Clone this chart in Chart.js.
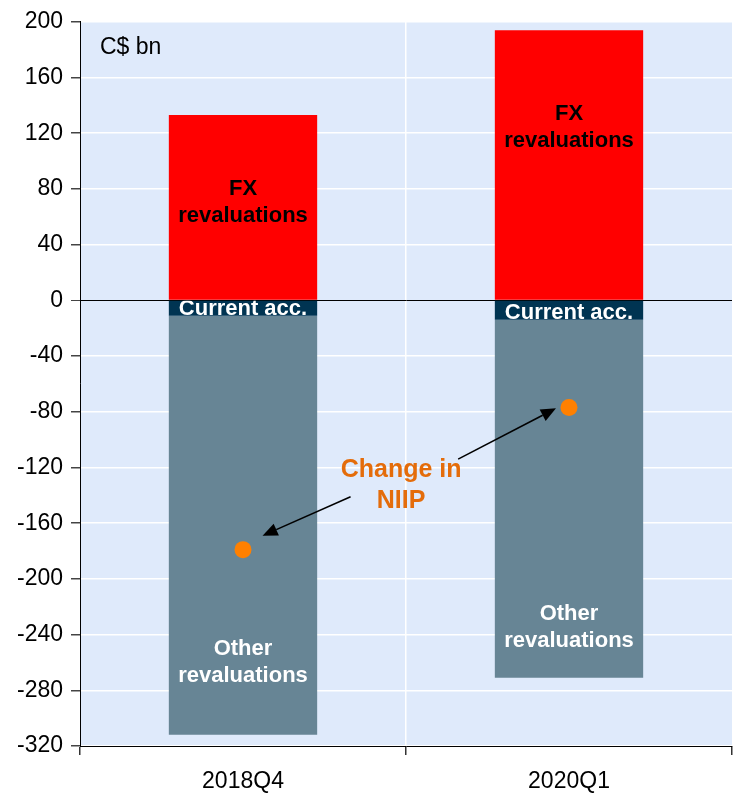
<!doctype html>
<html lang="en">
<head>
<meta charset="UTF-8" />
<title>NIIP change</title>
<script src="https://cdn.jsdelivr.net/npm/chart.js"></script>
<style>
  html, body { margin: 0; padding: 0; background: #fff; overflow: hidden; }
  canvas { display: block; }
</style>
</head>
<body>
<canvas id="myChart" width="736" height="794"></canvas>
<script>
// data, C$ bn
const quarters = ['2018Q4', '2020Q1'];
const fxReval = [133, 194];
const currentAcc = [-11, -14];
const otherReval = [-301, -257];
const niipChange = [-179, -77];
const yMin = -320, yMax = 200, yStep = 40;

// where the in-bar labels sit (y units)
const fxLabelY = [70, 124];
const otherLabelY = [-260, -235];

// annotation: text + two arrows, in (category index, y) units
const niipText = { x: 0.485, y: -133, lines: ['Change in', 'NIIP'] };
const arrows = [
    { from: [0.33, -141], to: [0.06, -169] },
    { from: [0.66, -114], to: [0.96, -77.5] }
];

const FONT = "'Liberation Sans', Arial, sans-serif";

const bgPlugin = {
    id: 'bg',
    beforeDraw(chart) {
        const { ctx, chartArea: a } = chart;
        ctx.save();
        ctx.fillStyle = '#dfeafb';
        ctx.fillRect(a.left, a.top, a.right - a.left, a.bottom - a.top);
        ctx.restore();
    }
};

function drawLines(ctx, arr, x, yMid, lh) {
    const y0 = yMid - (arr.length - 1) * lh / 2;
    arr.forEach((t, i) => ctx.fillText(t, x, y0 + i * lh));
}

function drawArrow(ctx, x0, y0, x1, y1) {
    const ang = Math.atan2(y1 - y0, x1 - x0);
    const hl = 15, hw = 6.5;
    const bx = x1 - hl * Math.cos(ang), by = y1 - hl * Math.sin(ang);
    ctx.beginPath();
    ctx.moveTo(x0, y0);
    ctx.lineTo(bx, by);
    ctx.stroke();
    ctx.beginPath();
    ctx.moveTo(x1, y1);
    ctx.lineTo(bx + hw * Math.sin(ang), by - hw * Math.cos(ang));
    ctx.lineTo(bx - hw * Math.sin(ang), by + hw * Math.cos(ang));
    ctx.closePath();
    ctx.fill();
}

const labelPlugin = {
    id: 'labels',
    afterDatasetsDraw(chart) {
        const { ctx, scales: { x, y }, chartArea: a } = chart;
        ctx.save();
        ctx.textAlign = 'center';
        ctx.textBaseline = 'middle';

        const fxMeta = chart.getDatasetMeta(1);
        const caMeta = chart.getDatasetMeta(2);

        quarters.forEach((q, i) => {
            const cx = fxMeta.data[i].x;
            ctx.font = 'bold 22px ' + FONT;
            ctx.fillStyle = '#000';
            drawLines(ctx, ['FX', 'revaluations'], cx, y.getPixelForValue(fxLabelY[i]), 27);

            ctx.fillStyle = '#fff';
            drawLines(ctx, ['Other', 'revaluations'], cx, y.getPixelForValue(otherLabelY[i]), 27);

            // current account label, clipped to its thin bar
            const el = caMeta.data[i];
            const top = Math.min(el.y, el.base), bot = Math.max(el.y, el.base);
            ctx.save();
            ctx.beginPath();
            ctx.rect(el.x - el.width / 2, top, el.width, bot - top);
            ctx.clip();
            ctx.textBaseline = 'alphabetic';
            ctx.fillText('Current acc.', el.x, bot - 0.5);
            ctx.restore();
        });

        // change in NIIP annotation
        ctx.font = 'bold 25px ' + FONT;
        ctx.fillStyle = '#e46c0a';
        drawLines(ctx, niipText.lines, x.getPixelForValue(niipText.x), y.getPixelForValue(niipText.y), 31);

        ctx.strokeStyle = '#000';
        ctx.fillStyle = '#000';
        ctx.lineWidth = 1.6;
        arrows.forEach(ar => {
            drawArrow(ctx,
                x.getPixelForValue(ar.from[0]), y.getPixelForValue(ar.from[1]),
                x.getPixelForValue(ar.to[0]), y.getPixelForValue(ar.to[1]));
        });

        // unit label
        ctx.font = '23px ' + FONT;
        ctx.textAlign = 'left';
        ctx.fillText('C$ bn', a.left + 20, a.top + 26);
        ctx.restore();
    }
};

const ctx = document.getElementById('myChart');

new Chart(ctx, {
    type: 'bar',
    data: {
        labels: quarters,
        datasets: [
            {
                type: 'line',
                label: 'Change in NIIP',
                data: niipChange,
                showLine: false,
                pointRadius: 8.5,
                pointBackgroundColor: '#ff8000',
                pointBorderWidth: 0,
                stack: 'niip',
                order: -1
            },
            { label: 'FX revaluations', data: fxReval, backgroundColor: '#ff0000', stack: 'a' },
            { label: 'Current acc.', data: currentAcc, backgroundColor: '#003452', stack: 'a' },
            { label: 'Other revaluations', data: otherReval, backgroundColor: '#678595', stack: 'a' }
        ]
    },
    options: {
        responsive: false,
        animation: false,
        devicePixelRatio: 1,
        layout: { autoPadding: false, padding: { top: 21, right: 4, left: 0, bottom: 0 } },
        datasets: {
            bar: { categoryPercentage: 1, barPercentage: 0.455, borderWidth: 0 }
        },
        plugins: {
            legend: { display: false },
            tooltip: { enabled: false }
        },
        scales: {
            x: {
                stacked: true,
                offset: true,
                afterFit: s => { s.height = 48; },
                grid: {
                    offset: true,
                    color: c => c.index === 1 ? '#ffffff' : 'rgba(0,0,0,0)',
                    lineWidth: 1.5,
                    tickColor: '#333',
                    tickLength: 9
                },
                border: { color: '#000', width: 1 },
                ticks: {
                    color: '#000',
                    padding: 13,
                    font: { family: FONT, size: 23 }
                }
            },
            y: {
                stacked: true,
                min: yMin,
                max: yMax,
                afterFit: s => { s.width = 80; },
                grid: {
                    color: c => c.tick && c.tick.value === 0 ? '#000' : '#ffffff',
                    lineWidth: c => c.tick && c.tick.value === 0 ? 1 : 1.5,
                    tickColor: '#444',
                    tickLength: 9
                },
                border: { color: '#000', width: 1 },
                ticks: {
                    stepSize: yStep,
                    color: '#000',
                    padding: 8,
                    font: { family: FONT, size: 23 }
                }
            }
        }
    },
    plugins: [bgPlugin, labelPlugin]
});
</script>
</body>
</html>
